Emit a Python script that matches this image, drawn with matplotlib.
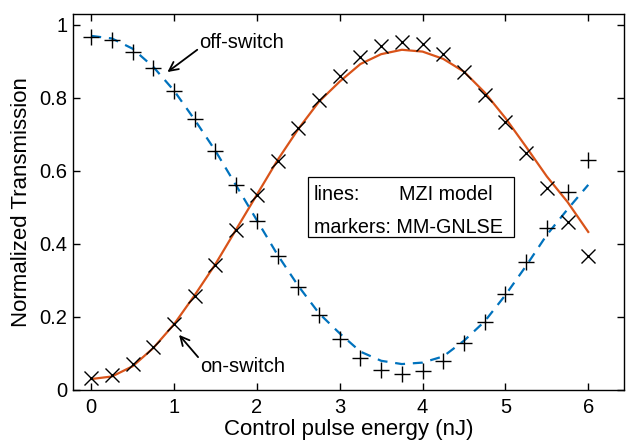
import matplotlib
matplotlib.use("Agg")
import matplotlib.pyplot as plt
from matplotlib.patches import Rectangle

plt.rcParams['font.family'] = ['Liberation Sans', 'DejaVu Sans']

# control pulse energy (nJ)
energy = [0, 0.25, 0.5, 0.75, 1, 1.25, 1.5, 1.75, 2, 2.25, 2.5, 2.75, 3,
          3.25, 3.5, 3.75, 4, 4.25, 4.5, 4.75, 5, 5.25, 5.5, 5.75, 6]

# MZI model curves
mzi_on = [0.03, 0.037, 0.065, 0.115, 0.18, 0.26, 0.345, 0.44, 0.535, 0.63,
          0.715, 0.79, 0.845, 0.893, 0.92, 0.932, 0.927, 0.907, 0.872, 0.815,
          0.745, 0.666, 0.585, 0.515, 0.433]
mzi_off = [0.97, 0.963, 0.935, 0.885, 0.82, 0.74, 0.655, 0.56, 0.465, 0.37,
           0.285, 0.21, 0.155, 0.105, 0.08, 0.071, 0.075, 0.092, 0.135, 0.188,
           0.26, 0.34, 0.425, 0.495, 0.562]

# MM-GNLSE simulation points
gnlse_on = [0.033, 0.041, 0.071, 0.118, 0.181, 0.258, 0.342, 0.438, 0.534,
            0.627, 0.717, 0.795, 0.860, 0.912, 0.943, 0.954, 0.947, 0.920,
            0.872, 0.808, 0.733, 0.649, 0.553, 0.460, 0.367]
gnlse_off = [0.967, 0.959, 0.926, 0.882, 0.819, 0.742, 0.655, 0.562, 0.463,
             0.367, 0.282, 0.205, 0.140, 0.088, 0.055, 0.044, 0.052, 0.079,
             0.129, 0.186, 0.262, 0.351, 0.443, 0.542, 0.630]

orange = '#D95319'
blue = '#0072BD'

fig = plt.figure(figsize=(6.26, 4.46), dpi=100)
ax = fig.add_axes([0.1166, 0.1256, 0.880, 0.843])

ax.plot(energy, mzi_on, '-', color=orange, lw=1.6)
ax.plot(energy, mzi_off, '--', color=blue, lw=1.6, dashes=(4.5, 3.5))
ax.plot(energy, gnlse_on, 'x', color='black', ms=9.5, mew=1.0, ls='none')
ax.plot(energy, gnlse_off, '+', color='black', ms=11, mew=1.0, ls='none')

ax.set_xlim(-0.22, 6.43)
ax.set_ylim(0, 1.03)
ax.set_xticks([0, 1, 2, 3, 4, 5, 6])
ax.set_xticklabels(['0', '1', '2', '3', '4', '5', '6'])
ax.set_yticks([0, 0.2, 0.4, 0.6, 0.8, 1.0])
ax.set_yticklabels(['0', '0.2', '0.4', '0.6', '0.8', '1'])
ax.tick_params(direction='in', top=True, right=True, length=5, width=1.0,
               labelsize=14.5, colors='black')
ax.tick_params(axis='x', pad=6)
ax.tick_params(axis='y', pad=4)
for s in ax.spines.values():
    s.set_linewidth(1.0)

ax.set_xlabel('Control pulse energy (nJ)', fontsize=16, labelpad=1)
ax.set_ylabel('Normalized Transmission', fontsize=16, labelpad=5)

# annotations with arrows
ax.annotate('', xy=(0.92, 0.871), xytext=(1.28, 0.932),
            arrowprops=dict(arrowstyle='->', color='black', lw=1.3,
                            shrinkA=0, shrinkB=0, mutation_scale=16))
ax.text(1.30, 0.951, 'off-switch', fontsize=14.5, va='center', ha='left')
ax.annotate('', xy=(1.06, 0.151), xytext=(1.29, 0.090),
            arrowprops=dict(arrowstyle='->', color='black', lw=1.3,
                            shrinkA=0, shrinkB=0, mutation_scale=16))
ax.text(1.316, 0.063, 'on-switch', fontsize=14.5, va='center', ha='left')

# key box
ax.add_patch(Rectangle((0.4265, 0.407), 0.374, 0.160, transform=ax.transAxes,
                       fc='white', ec='black', lw=0.9, zorder=5))
ax.text(0.4374, 0.519, 'lines:', transform=ax.transAxes, fontsize=14.2,
        va='center', ha='left', zorder=6)
ax.text(0.592, 0.519, 'MZI model', transform=ax.transAxes, fontsize=14.2,
        va='center', ha='left', zorder=6)
ax.text(0.4374, 0.431, 'markers: MM-GNLSE', transform=ax.transAxes,
        fontsize=14.2, va='center', ha='left', zorder=6)

fig.savefig('out.png', dpi=100)
